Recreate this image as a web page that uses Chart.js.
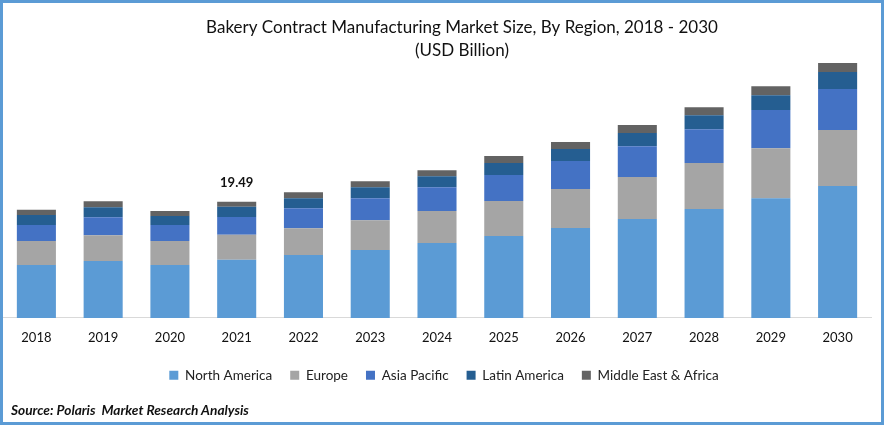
<!DOCTYPE html>
<html>
<head>
<meta charset="utf-8">
<script src="https://cdn.jsdelivr.net/npm/chart.js@4"></script>
<style>
html, body { margin: 0; padding: 0; background: #fff; }
#frame { position: relative; width: 878px; height: 419px; border: 3px solid #5b9bd5; background: #fff; overflow: hidden; }
#source { position: absolute; left: 8px; top: 398px; font: italic bold 13.7px Lato, sans-serif; color: #111; }
</style>
</head>
<body>
<div id="frame">
    <canvas id="marketChart" width="878" height="419"></canvas>
    <div id="source">Source: Polaris&nbsp; Market Research Analysis</div>
</div>
<script>
var years = ["2018", "2019", "2020", "2021", "2022", "2023", "2024", "2025", "2026", "2027", "2028", "2029", "2030"];
var northAmerica = [8.9, 9.55, 8.9, 9.75, 10.55, 11.4, 12.6, 13.75, 15.1, 16.6, 18.3, 20.1, 22.15];
var europe = [4.0, 4.35, 4.0, 4.2, 4.5, 5.0, 5.35, 5.9, 6.55, 7.05, 7.7, 8.4, 9.4];
var asiaPacific = [2.7, 3.0, 2.7, 3.0, 3.35, 3.7, 4.0, 4.35, 4.7, 5.2, 5.7, 6.4, 6.9];
var latinAmerica = [1.7, 1.7, 1.5, 1.7, 1.7, 1.85, 1.85, 2.0, 2.0, 2.2, 2.35, 2.5, 2.85];
var middleEastAfrica = [0.85, 1.0, 0.85, 0.84, 1.0, 1.0, 1.0, 1.2, 1.2, 1.35, 1.35, 1.5, 1.5];
var labelYear = "2021";
var labelText = "19.49";

// prints the single total above the 2021 bar
var totalLabel = {
    id: "totalLabel",
    afterDatasetsDraw: function(chart) {
        var last = chart.data.datasets.length - 1;
        var bar = chart.getDatasetMeta(last).data[years.indexOf(labelYear)];
        var ctx = chart.ctx;
        ctx.save();
        ctx.font = "bold 13px Lato, sans-serif";
        ctx.fillStyle = "#111";
        ctx.textAlign = "center";
        ctx.textBaseline = "bottom";
        ctx.fillText(labelText, bar.x, bar.y - 13);
        ctx.restore();
    }
};

// title and legend sit right of the plot centre in the original,
// and the wide legend padding would otherwise push the axis up
var nudgeBlocks = {
    id: "nudgeBlocks",
    afterLayout: function(chart) {
        chart.titleBlock.left += 25;
        chart.titleBlock.right += 25;
        chart.legend.left += 7;
        chart.legend.right += 7;
        chart.legend.top -= 7;
        chart.legend.bottom -= 7;
    }
};

function series(name, values, color) {
    return {
        label: name,
        data: values,
        backgroundColor: color,
        barPercentage: 0.585,
        categoryPercentage: 1
    };
}

var ctx = document.getElementById("marketChart").getContext("2d");
new Chart(ctx, {
    type: "bar",
    data: {
        labels: years,
        datasets: [
            series("North America", northAmerica, "#5b9bd5"),
            series("Europe", europe, "#a5a5a5"),
            series("Asia Pacific", asiaPacific, "#4472c4"),
            series("Latin America", latinAmerica, "#255e91"),
            series("Middle East & Africa", middleEastAfrica, "#636363")
        ]
    },
    options: {
        responsive: false,
        animation: false,
        layout: { padding: { left: 0, right: 10, top: 3, bottom: 23 } },
        plugins: {
            title: {
                display: true,
                text: ["Bakery Contract Manufacturing Market Size, By Region, 2018 - 2030", "(USD Billion)"],
                color: "#111",
                font: { family: "Lato, sans-serif", size: 17, weight: "normal", lineHeight: 1.35 },
                padding: { top: 10, bottom: 0 }
            },
            legend: {
                position: "bottom",
                labels: {
                    boxWidth: 9,
                    boxHeight: 9,
                    padding: 18,
                    color: "#222",
                    font: { family: "Lato, sans-serif", size: 13.5 }
                }
            },
            tooltip: { enabled: false }
        },
        scales: {
            x: {
                stacked: true,
                grid: { display: false, drawTicks: false },
                border: { color: "#d9d9d9", width: 1 },
                ticks: { color: "#111", padding: 12, font: { family: "Lato, sans-serif", size: 13 } }
            },
            y: {
                stacked: true,
                min: 0,
                max: 43,
                display: false
            }
        }
    },
    plugins: [totalLabel, nudgeBlocks]
});
</script>
</body>
</html>
